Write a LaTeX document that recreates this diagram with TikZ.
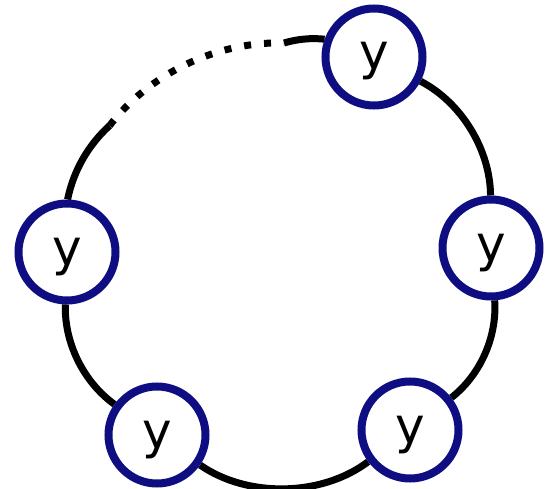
\documentclass[tikz,border=0pt]{standalone}
\usepackage{fontspec}
\usetikzlibrary{backgrounds}
\newfontfamily\yfont{DejaVu Sans}
\definecolor{ringblue}{RGB}{14,14,130}
\begin{document}
\begin{tikzpicture}[x=1pt,y=-1pt,
  ynode/.style={circle,draw=ringblue,line width=8pt,fill=white,minimum size=97pt,inner sep=0pt,
    font=\yfont\fontsize{50}{50}\selectfont,text height=27pt,text depth=1pt},
  link/.style={draw=black,line width=7pt,looseness=0.88},
  dotlink/.style={link,dash pattern=on 7pt off 13pt}]
\useasboundingbox (0,0) rectangle (546,489);
\coordinate (d1) at (109.6,125.6);
\coordinate (d2) at (284,43);
\node[ynode] (tr) at (374,57) {y};
\node[ynode] (r) at (491,248) {y};
\node[ynode] (br) at (410,430) {y};
\node[ynode] (bl) at (157,435) {y};
\node[ynode] (l) at (67,252) {y};
\begin{scope}[on background layer]
\fill[white] (0,0) rectangle (546,489);
\draw[link] (tr) to[bend left=31] (r);
\draw[link] (r) to[bend left=28] (br);
\draw[link] (br) to[bend left=36] (bl);
\draw[link] (bl) to[bend left=28] (l);
\draw[link] (l) to[bend left=18] (d1);
\draw[dotlink] (d1) to[bend left=27] (d2);
\draw[link] (d2) to[bend left=11] (tr);
\end{scope}
\end{tikzpicture}
\end{document}
